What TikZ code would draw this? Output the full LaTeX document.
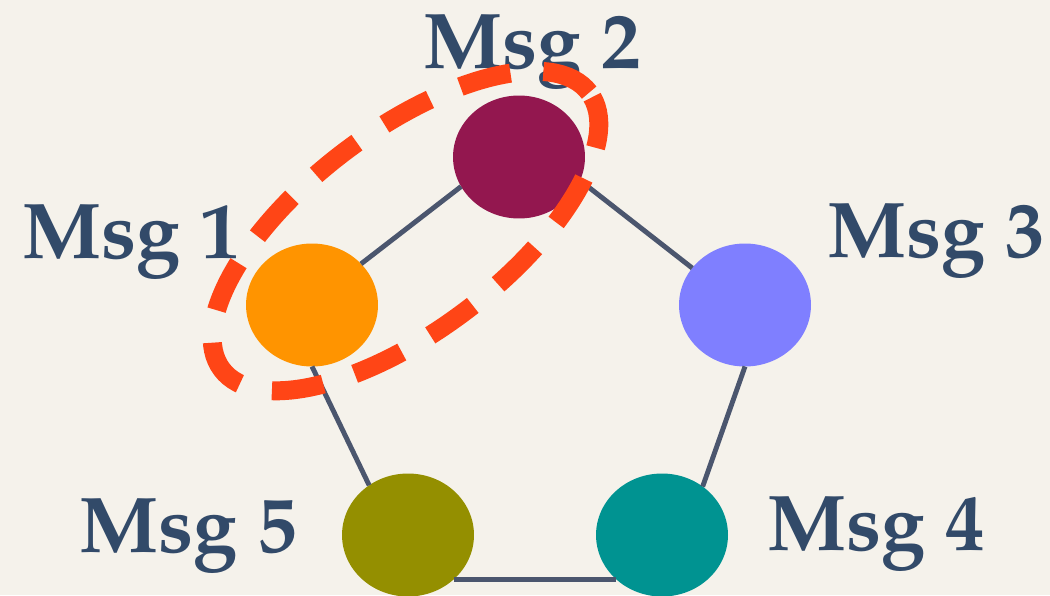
\documentclass[tikz,border=0pt]{standalone}
\usepackage{fontspec}
\setmainfont{texgyrepagella-regular.otf}[BoldFont=texgyrepagella-bold.otf]
\usetikzlibrary{positioning,calc,shapes.geometric}
\definecolor{paper}{HTML}{F5F2EB}
\definecolor{ink}{HTML}{324A69}
\definecolor{wire}{HTML}{4B566E}
\definecolor{hot}{HTML}{FF4516}
\definecolor{msgorange}{HTML}{FF9400}
\definecolor{msgplum}{HTML}{93174F}
\definecolor{msgviolet}{HTML}{7F7FFF}
\definecolor{msgteal}{HTML}{009391}
\definecolor{msgolive}{HTML}{948F00}

\begin{document}
\begin{tikzpicture}[
      x=0.02cm, y=-0.02cm,
      msg/.style={ellipse, inner sep=0pt, outer sep=0pt,
                  minimum width=2.64cm, minimum height=2.46cm},
      lbl/.style={anchor=base, inner sep=0pt, text=ink,
                  font=\fontsize{45}{50}\selectfont\bfseries},
      link/.style={draw=wire, line width=2.8pt},
      grp/.style={ellipse, draw=hot, line width=10.8pt,
                  dash pattern=on 1.04cm off 0.66cm}
    ]
    \useasboundingbox (0,0) rectangle (1050,595);
    \fill[paper] (0,0) rectangle (1050,595);

    % Messages
    \node[msg, fill=msgplum] (n2) at (519,157) {};
    \node[msg, fill=msgorange] (n1) at (312,305) {};
    \node[msg, fill=msgviolet] (n3) at (745,305) {};
    \node[msg, fill=msgolive] (n5) at (408,535) {};
    \node[msg, fill=msgteal] (n4) at (662,535) {};

    % Ring
    \draw[link] (n1.40) -- (n2.-153);
    \draw[link] (n2.-21) -- (n3.145);
    \draw[link] (n3.south) -- (n4.50);
    \draw[link] (n4.-136) -- (n5.-44);
    \draw[link] (n5.128) -- (n1.south);

    % Labels
    \node[lbl] (l2) at (532,68) {Msg 2};
    \node[lbl] (l1) at (131,258) {Msg 1};
    \node[lbl] (l3) at (936,257) {Msg 3};
    \node[lbl] (l5) at (188,552) {Msg 5};
    \node[lbl] (l4) at (876,550) {Msg 4};

    % Group of 1 and 2
    \node[grp, rotate=37, minimum width=9.2cm, minimum height=4cm]
      (pair) at ($(n1)!0.5!(n2)+(-10,0)$) {};
  \end{tikzpicture}
\end{document}
